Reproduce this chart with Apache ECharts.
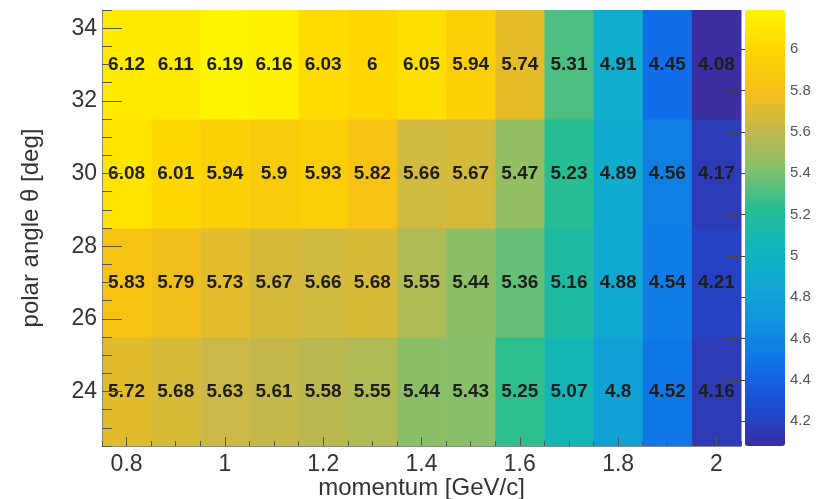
<!DOCTYPE html>
<html><head><meta charset="utf-8">
<script src="https://cdn.jsdelivr.net/npm/echarts@6/dist/echarts.min.js"></script>
<style>html,body{margin:0;padding:0;background:#fff}#c{width:816px;height:499px}</style>
</head><body><div id="c"></div><script>
// bin centres
const momentum = [0.8, 0.9, 1.0, 1.1, 1.2, 1.3, 1.4, 1.5, 1.6, 1.7, 1.8, 1.9, 2.0];
const angles = [24, 27, 30, 33];
const binWidthX = 0.1;
const binWidthY = 3;
// values per angle row
const row24 = [5.72, 5.68, 5.63, 5.61, 5.58, 5.55, 5.44, 5.43, 5.25, 5.07, 4.8, 4.52, 4.16];
const row27 = [5.83, 5.79, 5.73, 5.67, 5.66, 5.68, 5.55, 5.44, 5.36, 5.16, 4.88, 4.54, 4.21];
const row30 = [6.08, 6.01, 5.94, 5.9, 5.93, 5.82, 5.66, 5.67, 5.47, 5.23, 4.89, 4.56, 4.17];
const row33 = [6.12, 6.11, 6.19, 6.16, 6.03, 6, 6.05, 5.94, 5.74, 5.31, 4.91, 4.45, 4.08];
const rows = [row24, row27, row30, row33];
// tick labels
const xTicks = [0.8, 1.0, 1.2, 1.4, 1.6, 1.8, 2.0];
const xMinor = [0.75, 0.8, 0.85, 0.9, 0.95, 1.0, 1.05, 1.1, 1.15, 1.2, 1.25, 1.3, 1.35, 1.4, 1.45, 1.5, 1.55, 1.6, 1.65, 1.7, 1.75, 1.8, 1.85, 1.9, 1.95, 2.0, 2.05];
const yTicks = [24, 26, 28, 30, 32, 34];
const yMinor = [22.5, 23, 23.5, 24, 24.5, 25, 25.5, 26, 26.5, 27, 27.5, 28, 28.5, 29, 29.5, 30, 30.5, 31, 31.5, 32, 32.5, 33, 33.5, 34, 34.5];
const zTicks = [4.2, 4.4, 4.6, 4.8, 5.0, 5.2, 5.4, 5.6, 5.8, 6.0];
const zMin = 4.08, zMax = 6.19;
const palette = ['#3A2EA0', '#1C4CD4', '#106EE8', '#1090E0', '#10A8D4', '#10B6BC', '#26BE92', '#84C06A', '#C6B84A', '#F6C016', '#FFD600', '#FFF600'];

const data = [];
angles.forEach((a, j) => momentum.forEach((m, i) => data.push([m, a, rows[j][i]])));

const FONT = 'Liberation Sans, Arial, Helvetica, sans-serif';
const chart = echarts.init(document.getElementById('c'), null, {renderer: 'canvas'});
chart.setOption({
  animation: false,
  textStyle: {fontFamily: FONT},
  grid: [
    {left: 102, right: 75, top: 10, bottom: 53, containLabel: false, outerBoundsMode: 'none'},
    {left: 745, width: 40, top: 10, bottom: 53, containLabel: false, outerBoundsMode: 'none'}
  ],
  visualMap: {
    type: 'continuous', min: zMin, max: zMax, dimension: 2, seriesIndex: 0,
    calculable: false, left: 745, top: 10, itemWidth: 40, itemHeight: 436,
    padding: 0, text: null, inRange: {color: palette}, hoverLink: false
  },
  xAxis: [
    {type: 'value', gridIndex: 0, min: 0.75, max: 2.05, position: 'bottom', z: 10,
     name: 'momentum [GeV/c]', nameLocation: 'middle', nameGap: 30, nameMoveOverlap: false,
     nameTextStyle: {fontSize: 24, color: '#333', fontFamily: FONT},
     axisLine: {show: true, onZero: false, lineStyle: {color: '#888', width: 1}},
     axisTick: {show: true, inside: true, length: 9, customValues: xTicks, lineStyle: {color: '#555'}},
     axisLabel: {customValues: xTicks, fontSize: 23, color: '#333', margin: 7, fontFamily: FONT,
       formatter: v => String(+(+v).toFixed(2))},
     splitLine: {show: false}},
    {type: 'value', gridIndex: 0, min: 0.75, max: 2.05, position: 'bottom', z: 10,
     axisLine: {show: false}, axisLabel: {show: false}, splitLine: {show: false},
     axisTick: {show: true, inside: true, length: 5, customValues: xMinor, lineStyle: {color: '#555'}}},
    {type: 'value', gridIndex: 1, min: 0, max: 1, show: false}
  ],
  yAxis: [
    {type: 'value', gridIndex: 0, min: 22.5, max: 34.5, position: 'left', z: 10,
     name: 'polar angle \u03b8 [deg]', nameLocation: 'middle', nameGap: 59, nameRotate: 90, nameMoveOverlap: false,
     nameTextStyle: {fontSize: 24, color: '#333', fontFamily: FONT},
     axisLine: {show: true, onZero: false, lineStyle: {color: '#888', width: 1}},
     axisTick: {show: true, inside: true, length: 20, customValues: yTicks, lineStyle: {color: '#555'}},
     axisLabel: {customValues: yTicks, fontSize: 23, color: '#333', margin: 5, fontFamily: FONT},
     splitLine: {show: false}},
    {type: 'value', gridIndex: 0, min: 22.5, max: 34.5, position: 'left', z: 10,
     axisLine: {show: false}, axisLabel: {show: false}, splitLine: {show: false},
     axisTick: {show: true, inside: true, length: 10, customValues: yMinor, lineStyle: {color: '#555'}}},
    {type: 'value', gridIndex: 1, min: zMin, max: zMax, position: 'right', z: 10,
     axisLine: {show: false}, splitLine: {show: false},
     axisTick: {show: true, inside: true, length: 20, customValues: zTicks, lineStyle: {color: '#444'}},
     axisLabel: {customValues: zTicks, fontSize: 15, color: '#555', margin: 5, fontFamily: FONT,
       formatter: v => String(+(+v).toFixed(2))}}
  ],
  series: [{
    type: 'custom', xAxisIndex: 0, yAxisIndex: 0, z: 2,
    data: data,
    encode: {x: 0, y: 1},
    renderItem: function (params, api) {
      const x = api.value(0), y = api.value(1), v = api.value(2);
      const p0 = api.coord([x - binWidthX / 2, y + binWidthY / 2]);
      const p1 = api.coord([x + binWidthX / 2, y - binWidthY / 2]);
      const c = api.coord([x, y]);
      return {
        type: 'group',
        children: [
          {type: 'rect', shape: {x: p0[0], y: p0[1], width: p1[0] - p0[0] + 0.5, height: p1[1] - p0[1] + 0.5},
           style: {fill: api.visual('color')}},
          {type: 'text', x: c[0], y: c[1], z2: 5,
           style: {text: String(v), fill: '#1e1e1e', font: 'bold 19px ' + FONT, align: 'center', verticalAlign: 'middle'}}
        ]
      };
    }
  }]
});
</script></body></html>
